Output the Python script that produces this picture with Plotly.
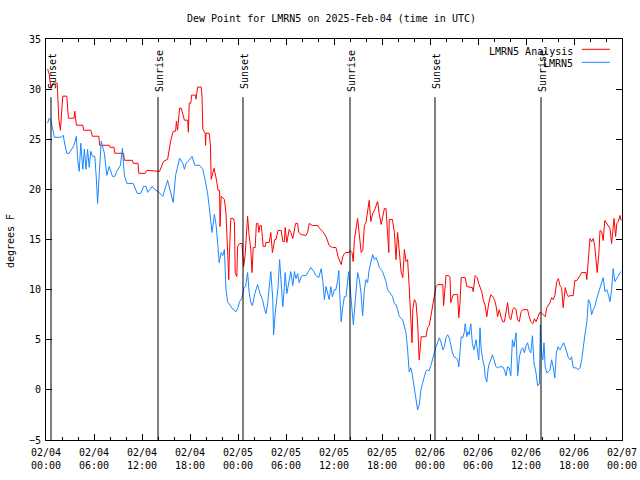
import plotly.graph_objects as go
import pandas as pd

# ---------------- data (hours after 2025-02-04 00:00 UTC, degrees F) ----------------
analysis_hours = [
    0.2, 0.4, 0.6, 0.9, 1.4, 1.6, 1.8, 1.95, 2.1, 2.6,
    2.8, 3.5, 3.6, 3.8, 4.6, 4.7, 5.6, 5.8, 6.6, 6.7,
    7.9, 8.0, 8.5, 8.6, 9.7, 9.8, 10.8, 10.9, 11.5, 11.6,
    12.4, 12.6, 14.2, 14.7, 15.2, 15.6, 15.9, 16.2, 16.3, 16.45,
    16.7, 16.9, 17.1, 17.3, 17.7, 17.8, 17.9, 18.1, 18.2, 18.7,
    18.75, 18.95, 19.4, 19.5, 19.6, 19.9, 19.95, 20.0, 20.4, 20.55,
    20.65, 20.8, 21.0, 21.3, 21.5, 21.7, 21.75, 21.9, 22.3, 22.5,
    22.7, 22.85, 22.9, 23.1, 23.4, 23.55, 23.65, 23.85, 23.95, 24.2,
    24.5, 24.7, 24.9,
    25.0, 25.2, 25.4, 25.6, 25.75, 25.9, 26.15, 26.3, 26.5, 26.6,
    26.75, 26.9, 27.0, 27.15, 27.4, 27.5, 27.9, 28.1, 28.3, 28.6,
    28.75, 29.0, 29.4, 29.6, 29.8, 29.9, 30.1, 30.4, 30.6, 30.85,
    31.2, 31.45, 31.6, 31.9, 32.5, 32.7, 32.9, 33.3, 33.95, 34.2,
    34.6, 35.0, 35.4, 35.8, 36.25, 36.5, 36.9, 37.1, 37.3,
    37.5, 37.9, 38.0, 38.25, 38.4, 38.55, 38.75, 38.95, 39.15, 39.4,
    39.6, 39.8, 40.0, 40.2, 40.4, 40.6, 40.85, 41.05, 41.25, 41.45,
    41.65, 41.9, 42.1, 42.3, 42.5, 42.7, 42.85, 42.9, 43.3, 43.55,
    43.75, 43.95, 44.15, 44.4, 44.6, 44.8, 45.0, 45.2, 45.4, 45.6,
    45.75, 45.85, 46.05, 46.25, 46.45, 46.65, 46.9, 47.5, 47.7, 47.9,
    48.1, 48.3, 48.55, 48.75, 48.95, 49.6, 49.7, 49.9,
    50.0, 50.35, 50.5, 50.6, 50.75, 50.9, 51.45, 51.6, 51.75, 51.9,
    52.4, 52.6, 53.3, 53.4, 53.65, 53.9, 54.1, 54.25, 54.5, 54.65,
    54.9, 55.1, 55.35, 55.6, 55.85, 56.05, 56.25, 56.45, 56.65, 56.9,
    57.1, 57.3, 57.5, 57.7, 57.9, 58.1, 58.35, 58.55, 58.75, 58.95,
    59.15, 59.4, 59.6, 60.2, 60.4, 60.6, 60.85, 61.05, 61.25, 61.45,
    61.7,
    61.9, 62.15, 62.4, 62.6, 62.8, 63.0, 63.2, 63.4, 63.6, 63.85,
    64.05, 64.25, 64.45, 64.65, 64.9, 65.1, 65.3, 65.5, 65.9, 66.1,
    66.35, 66.55, 66.75, 66.95, 67.5, 67.6, 67.8, 68.0, 68.2, 68.4,
    68.6, 68.75, 68.9, 69.1, 69.25, 69.45, 69.65, 69.85, 70.1, 70.3,
    70.5, 70.7, 70.85, 71.0, 71.2, 71.35, 71.55, 71.75, 71.9,
]
analysis_dewpt = [
    32.0, 31.5, 30.2, 30.6, 30.6, 27.0, 25.9, 27.5, 29.3, 29.3,
    27.1, 27.1, 27.8, 26.4, 26.4, 25.9, 25.9, 25.3, 25.3, 24.4,
    24.4, 24.2, 24.2, 23.6, 23.6, 22.9, 22.9, 22.6, 22.6, 21.6,
    21.6, 21.9, 21.8, 22.8, 23.0, 24.9, 25.8, 25.8, 26.8, 25.9,
    28.1, 28.1, 27.6, 26.9, 26.9, 25.7, 28.6, 28.6, 29.4, 29.4,
    29.0, 30.2, 30.2, 29.3, 26.0, 25.6, 24.4, 25.6, 25.6, 24.4,
    21.0, 21.5, 22.1, 21.0, 19.9, 19.9, 16.3, 19.3, 19.0, 17.6,
    13.7, 11.0, 13.0, 17.1, 17.1, 16.8, 11.7, 11.3, 14.3, 14.6,
    14.6, 12.3, 13.5,
    14.5, 17.3, 15.3, 14.0, 11.7, 14.2, 14.2, 16.6, 16.6, 15.7,
    16.4, 16.4, 15.7, 14.3, 14.3, 14.7, 14.7, 15.7, 13.7, 15.0,
    15.0, 15.9, 15.9, 14.8, 14.8, 16.2, 14.7, 16.0, 15.7, 15.1,
    16.6, 16.6, 15.7, 15.5, 15.4, 15.7, 16.6, 16.4, 16.4, 16.1,
    15.8, 15.3, 14.4, 14.2, 14.2, 13.3, 12.5, 13.3, 13.6,
    13.7, 13.7, 13.9, 13.7, 12.8, 15.0, 16.3, 17.1, 15.6, 13.7,
    14.0, 16.4, 16.7, 17.6, 18.9, 16.8, 17.6, 17.9, 18.4, 18.8,
    17.6, 16.5, 17.3, 18.1, 18.1, 14.8, 13.7, 17.0, 17.0, 15.7,
    13.0, 15.7, 14.0, 11.7, 11.2, 14.0, 12.8, 13.0, 10.3, 6.6,
    4.7, 8.0, 9.0, 8.7, 6.7, 3.0, 5.3, 5.3, 6.2, 6.4,
    7.3, 8.3, 9.3, 10.3, 10.5, 10.5, 8.4, 11.2,
    11.4, 11.4, 11.2, 8.7, 9.0, 9.5, 9.5, 7.2, 8.7, 11.2,
    11.2, 10.3, 10.2, 9.8, 11.4, 11.2, 10.6, 10.2, 9.7, 9.0,
    8.4, 7.3, 8.7, 9.5, 9.3, 9.0, 8.4, 7.3, 8.0, 7.2,
    6.8, 6.8, 7.6, 8.7, 7.3, 7.0, 8.0, 8.2, 8.0, 7.0,
    6.8, 7.8, 8.0, 8.0, 7.3, 6.8, 6.6, 7.1, 6.8, 7.3,
    7.7,
    7.7, 7.5, 7.3, 8.2, 8.4, 8.7, 9.2, 9.0, 9.4, 10.8,
    11.1, 10.4, 10.2, 8.2, 10.2, 9.6, 9.3, 9.4, 9.4, 10.9,
    10.9, 11.1, 11.4, 11.7, 11.7, 11.0, 13.5, 15.1, 14.8, 15.1,
    14.3, 12.6, 11.7, 13.5, 15.9, 15.8, 14.9, 16.9, 16.6, 16.4,
    16.1, 14.6, 16.4, 17.1, 15.3, 16.6, 16.8, 17.4, 16.9,
]

obs_hours = [
    0.2, 0.4, 0.6, 0.85, 1.05, 1.9, 2.15, 2.4, 2.6, 2.9,
    3.15, 3.5, 3.8, 3.95, 4.15, 4.35, 4.6, 4.8, 5.0, 5.2,
    5.4, 5.6, 5.8, 6.1, 6.3, 6.45, 6.65, 6.9, 7.3, 7.6,
    7.9, 8.3, 8.6, 8.85, 9.3, 9.55, 9.8, 10.1, 10.9, 11.4,
    11.85, 12.2, 12.5,
    12.7, 13.3, 13.55, 14.0, 14.6, 15.2, 15.6, 15.9, 16.2, 16.7,
    17.1, 17.3, 17.5, 17.9, 18.25, 18.6, 19.2, 19.6, 19.9, 20.2,
    20.4, 20.6, 20.75, 21.05, 21.25, 21.45, 21.65, 21.9, 22.1, 22.3,
    22.5, 22.7, 23.1, 23.4, 23.75, 24.0, 24.2, 24.5, 24.75, 24.95,
    25.2, 25.4, 25.6, 25.8, 26.1, 26.45, 26.75, 27.1, 27.3, 27.5,
    27.7, 27.9, 28.1, 28.35, 28.45, 28.65, 28.85, 29.0, 29.2, 29.4,
    29.6, 29.8, 29.9, 30.1, 30.35, 30.6, 30.85, 31.05, 31.25, 31.45,
    31.65, 31.9, 32.1, 32.5, 32.8, 33.1, 33.4, 33.75, 34.1, 34.25,
    34.4, 34.6, 34.8, 35.0, 35.2, 35.4, 35.6, 35.8, 36.05, 36.25,
    36.45, 36.6, 36.75, 36.9, 37.1, 37.3,
    37.5, 37.83, 38.0, 38.25, 38.42, 38.67, 38.96, 39.17, 39.38, 39.58,
    39.8, 40.0, 40.2, 40.4, 40.6, 40.83, 41.04, 41.25, 41.46, 41.67,
    41.88, 42.08, 42.29, 42.5, 42.7, 42.9, 43.1, 43.33, 43.54, 43.75,
    43.96, 44.17, 44.58, 44.8, 45.0, 45.2, 45.4, 45.6, 45.8, 46.0,
    46.25, 46.45, 46.67, 46.87, 47.08, 47.3, 47.5, 47.7, 47.9, 48.1,
    48.3, 48.5, 48.75, 48.95, 49.17, 49.4, 49.6, 49.8,
    50.0, 50.2, 50.4, 50.6, 50.8, 51.0, 51.25, 51.46, 51.6, 51.75,
    51.9, 52.1, 52.3, 52.4, 52.6, 52.75, 52.9, 53.1, 53.3, 53.5,
    53.75, 53.96, 54.1, 54.25, 54.4, 54.6, 54.8, 54.9, 55.1, 55.25,
    55.4, 55.6, 55.8, 56.0, 56.25, 56.45, 56.7, 57.1, 57.3, 57.5,
    57.7, 57.9, 58.1, 58.3, 58.5, 58.75, 58.96, 59.2, 59.4, 59.6,
    59.8, 60.0, 60.2, 60.4, 60.6, 60.8, 61.0, 61.25, 61.46, 61.67,
    61.8, 61.9, 62.1, 62.25, 62.4, 62.6, 62.8, 63.0, 63.2, 63.4,
    63.6, 63.8, 64.0, 64.25, 64.45, 64.7, 64.9, 65.1, 65.3, 65.5,
    65.7, 65.9, 66.1, 66.3, 66.5, 66.75, 66.96, 67.2, 67.4, 67.6,
    67.8, 68.0, 68.2, 68.4, 68.6, 68.8, 69.0, 69.25, 69.45, 69.65,
    69.88, 70.1, 70.3, 70.5, 70.7, 70.9, 71.1, 71.3, 71.5, 71.75,
    71.9,
]
obs_dewpt = [
    26.6, 27.1, 26.9, 25.8, 25.2, 25.2, 25.4, 24.3, 23.6, 23.6,
    24.0, 24.4, 25.3, 23.0, 21.8, 24.6, 22.0, 24.0, 22.0, 24.0,
    22.2, 23.8, 23.3, 23.3, 21.0, 18.6, 21.4, 24.8, 23.6, 21.4,
    22.3, 21.3, 21.3, 21.8, 22.4, 24.1, 21.4, 20.6, 20.6, 19.6,
    19.6, 20.3, 20.3,
    19.7, 20.3, 20.0, 19.8, 19.3, 20.9, 19.5, 18.7, 21.4, 23.1,
    22.6, 22.0, 22.6, 22.9, 23.3, 22.4, 22.4, 22.0, 20.9, 19.6,
    18.3, 17.0, 15.7, 17.5, 16.5, 14.7, 12.7, 13.7, 13.4, 14.0,
    10.0, 8.8, 8.3, 8.0, 7.8, 8.2, 8.8, 9.2, 10.2, 10.3,
    11.7, 9.7, 8.7, 8.4, 9.6, 10.5, 9.6, 8.9, 8.1, 7.6,
    8.6, 9.9, 11.8, 9.0, 5.5, 7.6, 8.9, 10.2, 13.0, 10.7,
    8.3, 10.2, 11.7, 9.6, 10.7, 11.8, 10.4, 11.8, 11.1, 11.6,
    10.7, 11.3, 11.4, 11.4, 11.8, 12.2, 11.9, 11.4, 11.2, 11.7,
    12.1, 10.9, 9.0, 10.3, 9.7, 9.0, 10.3, 9.3, 10.0, 10.0,
    10.9, 11.9, 9.0, 6.8, 8.3, 9.3,
    9.3, 11.8, 10.3, 8.0, 6.5, 9.0, 11.7, 11.0, 9.6, 7.4,
    10.0, 11.0, 10.7, 12.0, 12.7, 13.5, 13.0, 13.2, 12.8, 12.2,
    12.0, 11.8, 11.3, 10.8, 10.0, 9.8, 9.6, 9.3, 8.6, 8.5,
    8.0, 7.3, 7.0, 6.3, 5.7, 4.0, 1.8, 2.2, 1.5, 0.4,
    -1.0, -2.0, -1.4, 0.0, 0.7, 1.4, 1.9, 2.0, 1.9, 2.4,
    3.0, 3.7, 4.3, 4.7, 5.2, 4.7, 4.0, 4.3,
    5.2, 5.5, 5.2, 4.5, 3.7, 3.3, 3.2, 3.0, 2.3, 3.8,
    5.3, 5.2, 5.8, 6.6, 5.3, 5.8, 5.5, 6.6, 4.6, 4.0,
    5.0, 3.7, 3.0, 6.2, 4.0, 3.0, 2.3, 1.3, 0.8, 2.0,
    2.6, 3.0, 3.5, 3.0, 2.3, 2.2, 2.3, 2.3, 2.0, 1.4,
    2.3, 2.2, 1.4, 5.0, 4.3, 5.7, 1.4, 3.4, 4.0, 4.2,
    3.7, 4.4, 4.7, 4.0, 3.7, 5.4, 2.7, 1.7, 0.4, 0.6,
    6.5, 4.0, 3.0, 4.7, 2.3, 1.7, 1.8, 2.0, 3.0, 2.3,
    1.2, 3.7, 4.3, 4.0, 4.3, 4.7, 4.3, 3.8, 3.2, 3.0,
    3.3, 2.2, 2.2, 2.2, 2.0, 2.2, 3.0, 4.8, 5.7, 6.7,
    9.0, 8.7, 7.5, 8.0, 8.3, 9.0, 9.5, 10.2, 10.8, 11.2,
    9.8, 10.0, 9.5, 8.8, 10.0, 12.1, 10.8, 11.0, 11.3, 11.7,
    11.8,
]

sun_hours = [0.625, 14.0, 24.625, 38.0, 48.625, 61.875]
sun_labels = ["Sunset", "Sunrise", "Sunset", "Sunrise", "Sunset", "Sunrise"]

series_names = ["LMRN5 Analysis", "LMRN5"]
series_colors = ["#ff0000", "#1a87ff"]

start = pd.Timestamp("2025-02-04 00:00")
end = pd.Timestamp("2025-02-07 00:00")


def to_time(hours):
    return [start + pd.Timedelta(hours=h) for h in hours]


FONT = "DejaVu Sans Mono"

fig = go.Figure()
fig.add_trace(go.Scatter(x=to_time(analysis_hours), y=analysis_dewpt, mode="lines",
                         line=dict(color=series_colors[0], width=1),
                         name=series_names[0], showlegend=False))
fig.add_trace(go.Scatter(x=to_time(obs_hours), y=obs_dewpt, mode="lines",
                         line=dict(color=series_colors[1], width=1),
                         name=series_names[1], showlegend=False))

shapes = []
annotations = []
for h, lab in zip(to_time(sun_hours), sun_labels):
    shapes.append(dict(type="line", xref="x", yref="y", x0=h, x1=h, y0=-5, y1=29.2,
                       line=dict(color="black", width=1)))
    annotations.append(dict(x=h, y=31.8, xref="x", yref="y", text=lab, textangle=-90,
                            showarrow=False, xanchor="center", yanchor="middle", xshift=1,
                            font=dict(family=FONT, size=10, color="black")))

# legend (gnuplot style: text then sample line)
leg_y = [0.970, 0.9377]
line_y = [0.9743, 0.9419]
for name, col, ty, ly in zip(series_names, series_colors, leg_y, line_y):
    annotations.append(dict(x=0.918, y=ty, xref="paper", yref="paper", text=name,
                            showarrow=False, xanchor="right", yanchor="middle",
                            font=dict(family=FONT, size=10, color="black")))
    shapes.append(dict(type="line", xref="paper", yref="paper", x0=0.930, x1=0.979,
                       y0=ly, y1=ly, line=dict(color=col, width=1)))

annotations.append(dict(x=0.4965, y=1.0499, xref="paper", yref="paper",
                        text="Dew Point for LMRN5 on 2025-Feb-04 (time in UTC)",
                        showarrow=False, xanchor="center", yanchor="middle",
                        font=dict(family=FONT, size=10, color="black")))
annotations.append(dict(x=-0.0625, y=0.496, xref="paper", yref="paper", text="degrees F",
                        textangle=-90, showarrow=False, xanchor="center", yanchor="middle",
                        font=dict(family=FONT, size=10, color="black")))

fig.update_layout(
    width=640, height=480, autosize=False,
    margin=dict(l=46, r=18, t=39, b=40, autoexpand=False),
    paper_bgcolor="white", plot_bgcolor="white",
    font=dict(family=FONT, size=10, color="black"),
    shapes=shapes, annotations=annotations,
    showlegend=False,
)
fig.update_xaxes(
    range=[start, end], type="date", automargin=False,
    dtick=6 * 3600 * 1000, tick0=start, tickformat="%m/%d<br>%H:%M",
    ticks="inside", ticklen=6, tickcolor="black", tickwidth=1,
    ticklabelstandoff=3,
    minor=dict(dtick=2 * 3600 * 1000, ticks="inside", ticklen=3, tickcolor="black"),
    showline=True, linecolor="black", linewidth=1, mirror="ticks",
    showgrid=False, zeroline=False,
    tickfont=dict(family=FONT, size=10, color="black"),
)
fig.update_yaxes(
    range=[-5, 35], dtick=5, tick0=0, automargin=False,
    ticks="inside", ticklen=6, tickcolor="black", tickwidth=1,
    ticklabelstandoff=2,
    showline=True, linecolor="black", linewidth=1, mirror="ticks",
    showgrid=False, zeroline=False,
    tickfont=dict(family=FONT, size=10, color="black"),
)

fig.write_html(
    "out.html",
    config={"responsive": False, "displayModeBar": False},
    post_script="document.body.style.margin='0';document.body.style.overflow='hidden';",
)
